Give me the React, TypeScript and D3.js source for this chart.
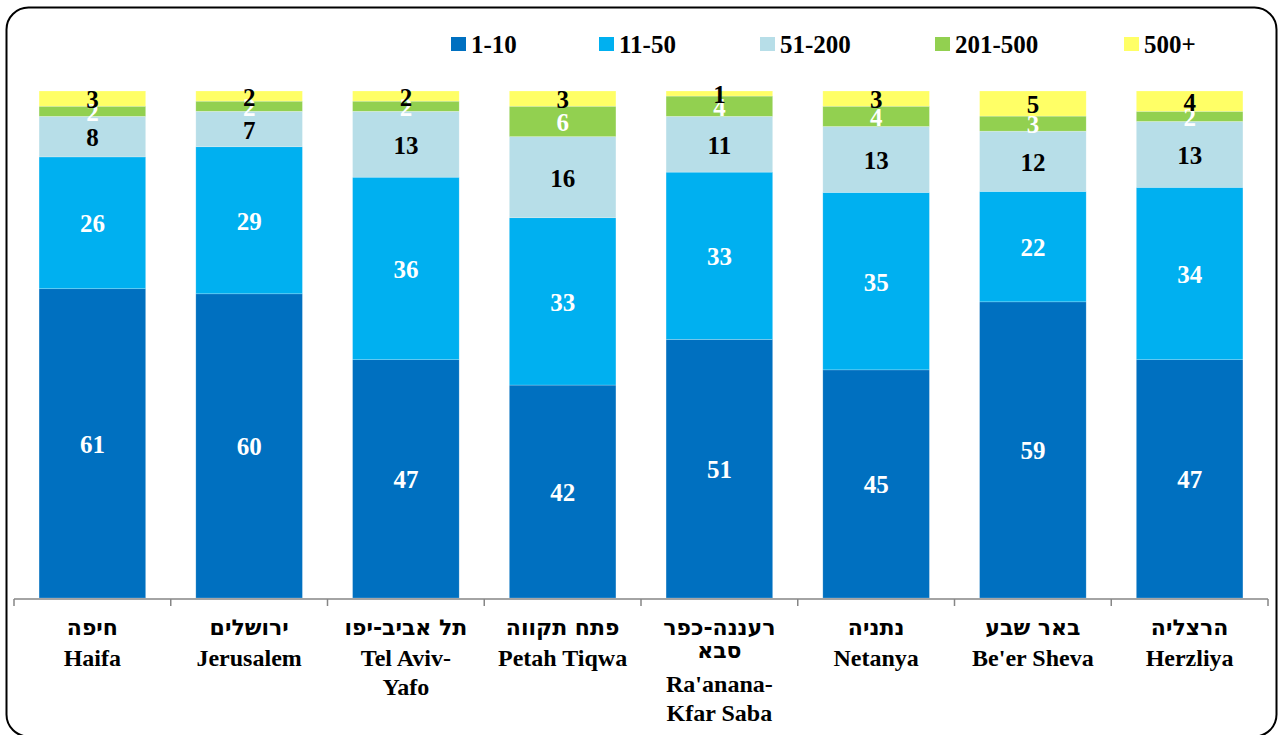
import React from "react";
import * as d3 from "d3";

const cities = ["Haifa", "Jerusalem", "TelAviv", "PetahTiqwa", "Raanana", "Netanya", "BeerSheva", "Herzliya"];
const hebrewLabels: string[][] = [
  ["חיפה"],
  ["ירושלים"],
  ["תל אביב-יפו"],
  ["פתח תקווה"],
  ["רעננה-כפר", "סבא"],
  ["נתניה"],
  ["באר שבע"],
  ["הרצליה"],
];
const englishLabels: string[][] = [
  ["Haifa"],
  ["Jerusalem"],
  ["Tel Aviv-", "Yafo"],
  ["Petah Tiqwa"],
  ["Ra'anana-", "Kfar Saba"],
  ["Netanya"],
  ["Be'er Sheva"],
  ["Herzliya"],
];
const seriesNames = ["1-10", "11-50", "51-200", "201-500", "500+"];
const s1_10 = [61, 60, 47, 42, 51, 45, 59, 47];
const s11_50 = [26, 29, 36, 33, 33, 35, 22, 34];
const s51_200 = [8, 7, 13, 16, 11, 13, 12, 13];
const s201_500 = [2, 2, 2, 6, 4, 4, 3, 2];
const s500p = [3, 2, 2, 3, 1, 3, 5, 4];
const seriesColors = ["#0070C0", "#00B0F0", "#B7DEE8", "#92D050", "#FFFF66"];
const labelColors = ["#FFFFFF", "#FFFFFF", "#000000", "#FFFFFF", "#000000"];
const legendX = [451, 599, 760, 935, 1124];

const W = 1278, H = 735;
const FONT = "'Liberation Serif', 'Times New Roman', 'DejaVu Serif', serif";
const HEB_FONT = "'DejaVu Sans', 'Liberation Sans', sans-serif";

export default function App() {
  const allSeries = [s1_10, s11_50, s51_200, s201_500, s500p];
  const rows = cities.map((c, i) => {
    const r: any = { city: c };
    seriesNames.forEach((s, j) => (r[s] = allSeries[j][i]));
    return r;
  });
  const stack = d3.stack<any>().keys(seriesNames).offset(d3.stackOffsetExpand);
  const stacked = stack(rows);

  const x = d3.scaleBand<string>().domain(cities).range([14, 1268]).paddingInner(0.32).paddingOuter(0.16);
  const xb = d3.scaleBand<string>().domain(cities).range([14, 1268]).padding(0);
  const y = d3.scaleLinear().domain([0, 1]).range([598, 91]);

  const axisY = 599;
  const tickXs = [...cities.map((c) => xb(c)!), 1268];

  return (
    <div style={{ position: "absolute", left: 0, top: 0 }}>
      <svg width={W} height={H} style={{ display: "block", fontFamily: FONT }}>
        <rect x={0} y={0} width={W} height={H} fill="#fff" />
        <rect x={6.5} y={7.5} width={1270} height={729} rx={22} ry={22} fill="none" stroke="#000" strokeWidth={2} />
        {/* legend */}
        {seriesNames.map((s, i) => (
          <g key={s}>
            <rect x={legendX[i]} y={37} width={15} height={14} fill={seriesColors[i]} />
            <text x={legendX[i] + 20} y={53} fontSize={25} fontWeight="bold" fill="#000">
              {s}
            </text>
          </g>
        ))}
        {/* bars */}
        {stacked.map((layer, j) => (
          <g key={layer.key}>
            {layer.map((d, i) => {
              const x0 = x(cities[i])!;
              const y0 = y(d[1]);
              const y1 = y(d[0]);
              return (
                <rect key={i} x={x0} y={y0} width={x.bandwidth()} height={y1 - y0} fill={seriesColors[j]} stroke="#ffffff" strokeOpacity={0.35} strokeWidth={0.6} />
              );
            })}
          </g>
        ))}
        {/* value labels */}
        {stacked.map((layer, j) => (
          <g key={"l" + layer.key}>
            {layer.map((d, i) => {
              const cx = x(cities[i])! + x.bandwidth() / 2;
              const cy = (y(d[1]) + y(d[0])) / 2;
              return (
                <text key={i} x={cx} y={cy + 9.5} textAnchor="middle" fontSize={25} fontWeight="bold" fill={labelColors[j]}>
                  {allSeries[j][i]}
                </text>
              );
            })}
          </g>
        ))}
        {/* axis */}
        <line x1={14} x2={1268} y1={axisY} y2={axisY} stroke="#868686" strokeWidth={1.5} />
        {tickXs.map((tx, i) => (
          <line key={i} x1={tx} x2={tx} y1={axisY} y2={axisY + 7} stroke="#868686" strokeWidth={1.5} />
        ))}
        {cities.map((c, i) => {
          const cx = xb(c)! + xb.bandwidth() / 2;
          const nh = hebrewLabels[i].length;
          const engStart = 666 + (nh - 1) * 26;
          return (
            <g key={c}>
              <text textAnchor="middle" fontSize={22} fontWeight="bold" fill="#000" fontFamily={HEB_FONT}>
                {hebrewLabels[i].map((ln, k) => (
                  <tspan key={k} x={cx} y={635 + k * 23}>
                    {ln}
                  </tspan>
                ))}
              </text>
              <text textAnchor="middle" fontSize={24} fontWeight="bold" fill="#000">
                {englishLabels[i].map((ln, k) => (
                  <tspan key={k} x={cx} y={engStart + k * 28.5}>
                    {ln}
                  </tspan>
                ))}
              </text>
            </g>
          );
        })}
      </svg>
    </div>
  );
}
